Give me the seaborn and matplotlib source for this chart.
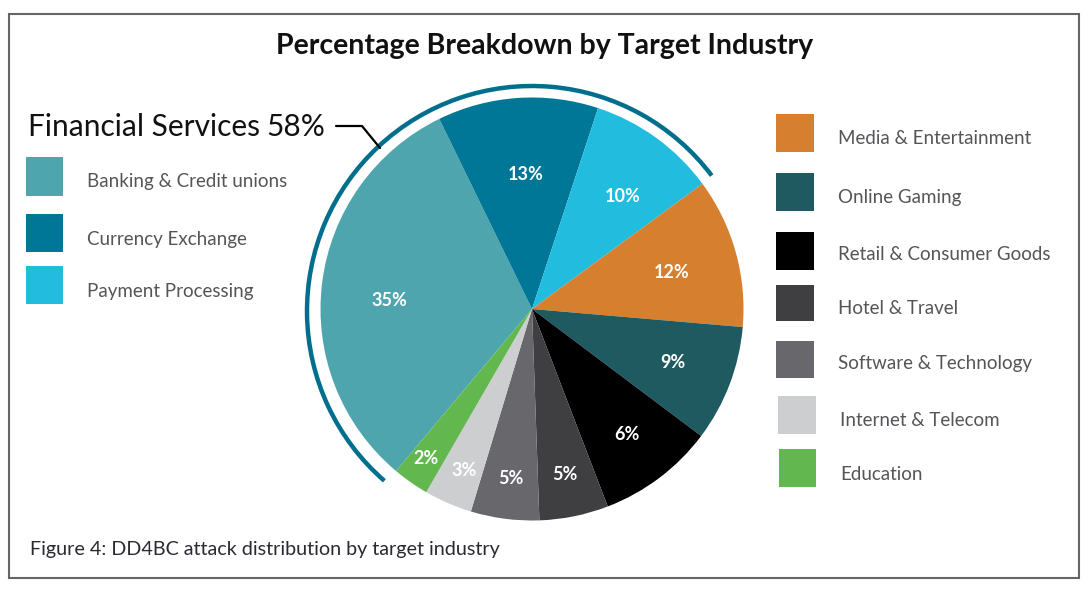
# %%
import matplotlib.pyplot as plt
import seaborn as sns
from matplotlib.patches import Arc, Rectangle

W, H = 1088, 591

# %%
industries = ['Banking & Credit unions', 'Currency Exchange', 'Payment Processing',
              'Media & Entertainment', 'Online Gaming', 'Retail & Consumer Goods',
              'Hotel & Travel', 'Software & Technology', 'Internet & Telecom', 'Education']
# printed labels
pct_labels = ['35%', '13%', '10%', '12%', '9%', '6%', '5%', '5%', '3%', '2%']
# slices in the picture are not drawn to the printed numbers, so these are degrees read off it
slice_degrees = [114.0, 44.2, 35.5, 41.2, 32.0, 32.1, 19.0, 18.8, 13.2, 10.0]
colors = ['#4FA5AE', '#007796', '#22BCDF', '#D67F2F', '#1F5A60',
          '#000000', '#3F3F42', '#68686C', '#CDCED0', '#62B84F']

# %%
sns.set_theme(style='white')
plt.rcParams['font.family'] = ['Lato', 'DejaVu Sans']
palette = sns.color_palette(colors)


def py(y):
    # picture rows run downwards
    return H - y


fig = plt.figure(figsize=(W / 100, H / 100), dpi=100)
ax = fig.add_axes([0, 0, 1, 1])

# clockwise, banking starts at its lower edge
ax.pie(slice_degrees, colors=palette, startangle=230, counterclock=False,
       center=(532, py(309)), radius=211.5, frame=False, wedgeprops={'linewidth': 0})
ax.set_xlim(0, W)
ax.set_ylim(0, H)
ax.axis('off')

label_xy = [(389, 300), (526, 174), (623, 196), (672, 272), (673, 362),
            (627, 435), (565, 475), (511, 478), (464, 471), (426, 458)]
for lab, (x, y) in zip(pct_labels, label_xy):
    ax.text(x, py(y), lab, color='white', fontsize=13, fontweight='bold', ha='center', va='center')

# ring around the financial services slices
ax.add_patch(Arc((532, py(311)), 2 * 225, 2 * 225, theta1=37, theta2=229,
                 color='#006F8E', lw=3.2))
ax.plot([336, 362, 380], [py(126), py(126), py(148)], color='black', lw=1.6)

# frame
ax.add_patch(Rectangle((9, py(578)), 1070, 564, fill=False, ec='#666666', lw=1.5))

# %%
ax.text(545, py(46), 'Percentage Breakdown by Target Industry', fontsize=20.5, fontweight='bold',
        color='#111111', ha='center', va='center')
ax.text(28, py(127), 'Financial Services', fontsize=21.5, color='#111111', va='center')
ax.text(266, py(127), '58%', fontsize=21.5, color='#111111', va='center')
ax.text(30, py(550), 'Figure 4: DD4BC attack distribution by target industry', fontsize=14.2,
        color='#2A2A33', va='center')

# swatch box: left, top, right, bottom / text x, text y
legend_pos = [(26, 157, 63, 196, 87, 182), (26, 214, 63, 252, 87, 240), (26, 266, 63, 304, 87, 291),
              (776, 114, 814, 152, 838, 139), (776, 173, 814, 211, 838, 198),
              (776, 232, 814, 270, 838, 255), (776, 285, 814, 321, 838, 308),
              (776, 341, 814, 378, 838, 364), (778, 396, 816, 434, 840, 420),
              (779, 449, 816, 487, 840, 474)]
for name, col, (x0, y0, x1, y1, tx, ty) in zip(industries, palette, legend_pos):
    ax.add_patch(Rectangle((x0, py(y1)), x1 - x0, y1 - y0, fc=col, ec='none'))
    ax.text(tx, py(ty), name, fontsize=13.5, color='#555559', va='center')

fig.savefig('out.png', dpi=100)
